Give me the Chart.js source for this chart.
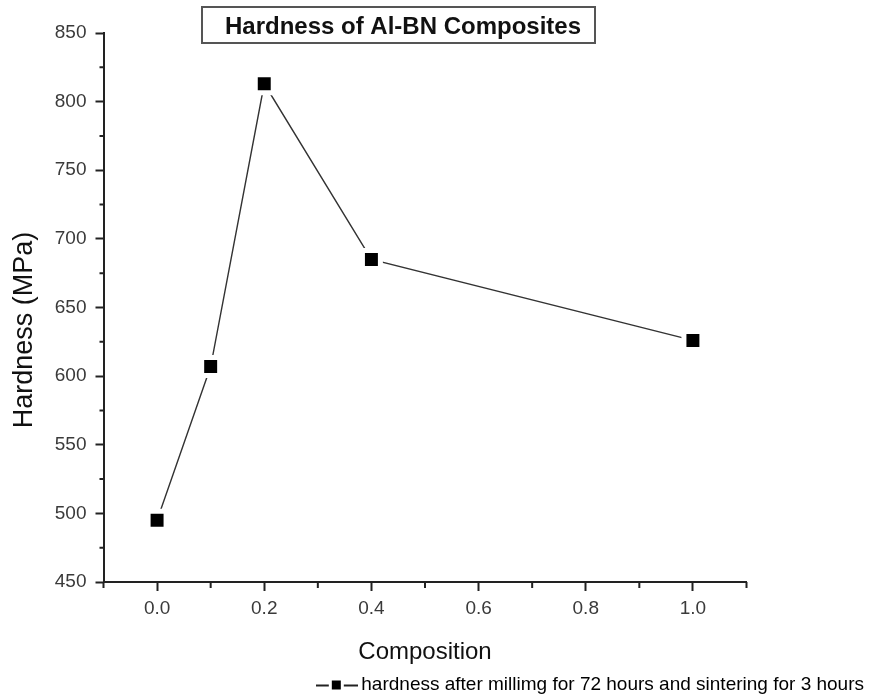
<!DOCTYPE html>
<html>
<head>
<meta charset="utf-8">
<script src="https://cdn.jsdelivr.net/npm/chart.js@4.4.0/dist/chart.umd.min.js"></script>
<style>
  html, body { margin: 0; padding: 0; background: #fff; }
  #wrap { width: 870px; height: 699px; }
</style>
</head>
<body>
<div id="wrap"><canvas id="hardnessChart"></canvas></div>
<script>
// data
const composition = [0.0, 0.1, 0.2, 0.4, 1.0];
const hardness = [495, 607, 813, 685, 626];
const xMajorTicks = [0.0, 0.2, 0.4, 0.6, 0.8, 1.0];
const xMinorTicks = [-0.1, 0.1, 0.3, 0.5, 0.7, 0.9, 1.1];
const yMajorTicks = [450, 500, 550, 600, 650, 700, 750, 800, 850];
const yMinorTicks = [475, 525, 575, 625, 675, 725, 775, 825];
const seriesLabel = "hardness after millimg for 72 hours and sintering for 3 hours";

const axisColor = "#222";
const tickTextColor = "#3a3a3a";
const fontFamily = "'Liberation Sans', Arial, sans-serif";

// legend symbol: line - square - line (Origin style)
const legendIcon = document.createElement("canvas");
legendIcon.width = 42;
legendIcon.height = 12;
(function () {
  const c = legendIcon.getContext("2d");
  c.fillStyle = "#222";
  c.fillRect(0, 6, 13, 2);
  c.fillRect(28, 6, 14, 2);
  c.fillStyle = "#000";
  c.fillRect(16, 2, 9, 9);
})();

// minor ticks + boxed title
const extrasPlugin = {
  id: "extras",
  afterDraw(chart) {
    const ctx = chart.ctx;
    const x = chart.scales.x, y = chart.scales.y;
    const area = chart.chartArea;
    ctx.save();
    ctx.strokeStyle = axisColor;
    ctx.lineWidth = 2;
    ctx.beginPath();
    xMinorTicks.forEach(v => {
      const px = x.getPixelForValue(v);
      ctx.moveTo(px, area.bottom);
      ctx.lineTo(px, area.bottom + 6);
    });
    yMinorTicks.forEach(v => {
      const py = y.getPixelForValue(v);
      ctx.moveTo(area.left, py);
      ctx.lineTo(area.left - 4, py);
    });
    ctx.stroke();

    // title box
    ctx.fillStyle = "#fff";
    ctx.fillRect(202, 7, 393, 36);
    ctx.strokeStyle = "#555";
    ctx.lineWidth = 2;
    ctx.strokeRect(202, 7, 393, 36);
    ctx.fillStyle = "#111";
    ctx.font = "bold 24px " + fontFamily;
    ctx.textAlign = "center";
    ctx.textBaseline = "middle";
    ctx.fillText("Hardness of Al-BN Composites", 403, 27);
    ctx.restore();
  }
};

new Chart(document.getElementById("hardnessChart"), {
  type: "line",
  data: {
    datasets: [{
      label: seriesLabel,
      data: composition.map((c, i) => ({ x: c, y: hardness[i] })),
      borderColor: "#333",
      borderWidth: 1.4,
      pointStyle: "rect",
      pointRadius: 12.7,
      pointHoverRadius: 12.7,
      pointBackgroundColor: "#000",
      pointBorderColor: "#fff",
      pointBorderWidth: 5,
      tension: 0,
      fill: false
    }]
  },
  options: {
    responsive: true,
    maintainAspectRatio: false,
    animation: false,
    events: [],
    layout: { padding: { left: 0, right: 0, top: 33, bottom: -5 } },
    plugins: {
      title: { display: false },
      tooltip: { enabled: false },
      legend: {
        position: "bottom",
        align: "end",
        labels: {
          usePointStyle: true,
          pointStyle: legendIcon,
          pointStyleWidth: 30,
          color: "#111",
          padding: 6,
          font: { family: fontFamily, size: 19 },
          generateLabels: chart => [{
            text: seriesLabel,
            pointStyle: legendIcon,
            fillStyle: "#000",
            strokeStyle: "#333",
            lineWidth: 0,
            datasetIndex: 0
          }]
        }
      }
    },
    scales: {
      x: {
        type: "linear",
        min: -0.1,
        max: 1.1,
        afterBuildTicks: scale => { scale.ticks = xMajorTicks.map(v => ({ value: v })); },
        afterFit: scale => { scale.height = 87; },
        border: { display: true, color: axisColor, width: 2 },
        grid: { drawOnChartArea: false, drawTicks: true, tickLength: 9, tickColor: axisColor, tickWidth: 2 },
        ticks: {
          color: tickTextColor,
          padding: 6,
          font: { family: fontFamily, size: 19 },
          callback: v => v.toFixed(1)
        },
        title: {
          display: true,
          text: "Composition",
          color: "#111",
          font: { family: fontFamily, size: 24 },
          padding: { top: 14, bottom: 2 }
        }
      },
      y: {
        type: "linear",
        min: 450,
        max: 850,
        afterBuildTicks: scale => { scale.ticks = yMajorTicks.map(v => ({ value: v })); },
        afterFit: scale => { scale.width = 103.5; },
        border: { display: true, color: axisColor, width: 2 },
        grid: { drawOnChartArea: false, drawTicks: true, tickLength: 8, tickColor: axisColor, tickWidth: 2 },
        ticks: {
          color: tickTextColor,
          padding: 9,
          font: { family: fontFamily, size: 19 }
        },
        title: {
          display: true,
          // trailing spaces push the label a little below the axis centre, as in the reference
          text: "Hardness (MPa)      ",
          color: "#111",
          font: { family: fontFamily, size: 27 },
          padding: { top: 8, bottom: 4 }
        }
      },
      // empty right-hand box so the plot ends where the reference does
      yRight: {
        type: "linear",
        position: "right",
        display: true,
        afterFit: scale => { scale.width = 123.5; },
        border: { display: false },
        grid: { display: false, drawTicks: false },
        ticks: { display: false }
      }
    }
  },
  plugins: [extrasPlugin]
});
</script>
</body>
</html>
